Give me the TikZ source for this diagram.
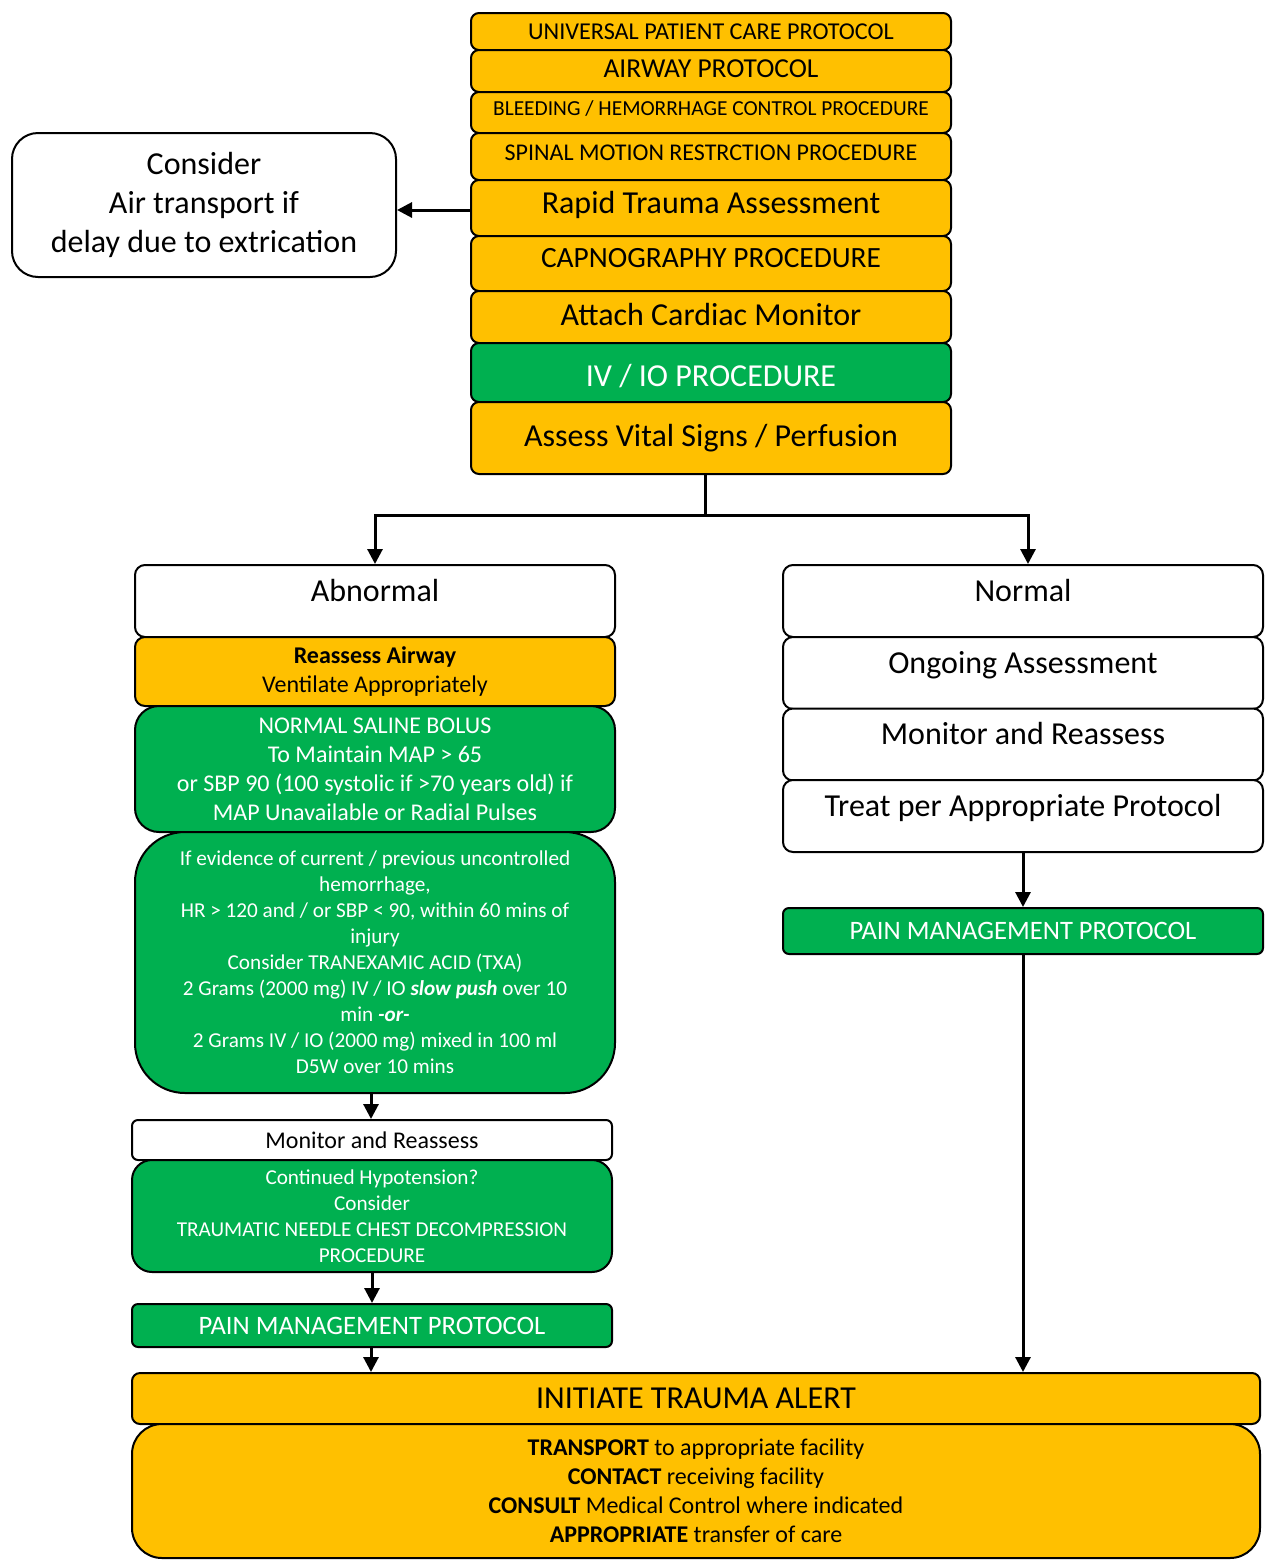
\documentclass[tikz,border=0pt]{standalone}
\usepackage{fontspec}
\setmainfont{Carlito}
\usetikzlibrary{arrows.meta}
\definecolor{amber}{HTML}{FFC000}
\definecolor{leaf}{HTML}{00B050}

% font size shortcut
\newcommand\fs[2]{\fontsize{#1}{#2}\selectfont}

\tikzset{
  base/.style={draw=black, line width=1pt, align=center, inner sep=0pt},
  yel/.style={base, fill=amber, text=black},
  grn/.style={base, fill=leaf, text=white},
  wht/.style={base, fill=white, text=black},
  toptext/.style={text height=18pt, text depth=18pt},
  baseline at/.style 2 args={text height=#1, text depth=#2},
  arr/.style={line width=1.5pt, -{Triangle[length=7.5pt,width=7.5pt]}},
}

% box from corner (#3,#4) to corner (#5,#6), style #1, name #2, text #7
\newcommand\pbox[7]{%
  \node[#1, minimum width={(#5-#3)*0.5pt}, minimum height={(#6-#4)*0.5pt}]
    (#2) at ({(#3+#5)/2},{(#4+#6)/2}) {#7};}

\begin{document}
\begin{tikzpicture}[x=0.5pt, y=-0.5pt]
\useasboundingbox (0,0) rectangle (1266,1564);

% ---- initial assessment stack
\pbox{yel, rounded corners=4pt, font=\fs{12.1}{14}, baseline at={13pt}{5.5pt}}{upc}{471}{13}{951}{50}{UNIVERSAL PATIENT CARE PROTOCOL}
\pbox{yel, rounded corners=4pt, font=\fs{13.7}{16}, baseline at={13.5pt}{7.5pt}}{awy}{471}{50}{951}{92}{AIRWAY PROTOCOL}
\pbox{yel, rounded corners=4pt, font=\fs{10.7}{13}, baseline at={11.5pt}{9pt}}{bld}{471}{92}{951}{133}{BLEEDING / HEMORRHAGE CONTROL PROCEDURE}
\pbox{yel, rounded corners=4pt, font=\fs{12}{14}, baseline at={13.5pt}{10pt}}{smr}{471}{133}{951}{180}{SPINAL MOTION RESTRCTION PROCEDURE}
\pbox{yel, rounded corners=4pt, font=\fs{16}{19.5}, baseline at={16.5pt}{11.5pt}}{rta}{471}{180}{951}{236}{Rapid Trauma Assessment}
\pbox{yel, rounded corners=4pt, font=\fs{14.7}{18}, baseline at={15.5pt}{12pt}}{cap}{471}{236}{951}{291}{CAPNOGRAPHY PROCEDURE}
\pbox{yel, rounded corners=4pt, font=\fs{16}{19.5}, baseline at={17pt}{9pt}}{acm}{471}{291}{951}{343}{Attach Cardiac Monitor}
\pbox{grn, rounded corners=4pt, font=\fs{16}{19.5}, baseline at={21.5pt}{8pt}}{ivo}{471}{343}{951}{402}{IV / IO PROCEDURE}
\pbox{yel, rounded corners=4pt, font=\fs{16}{19.5}, baseline at={22pt}{14pt}}{avs}{471}{402}{951}{474}{Assess Vital Signs / Perfusion}

% ---- air transport note
\pbox{wht, rounded corners=13pt, font=\fs{16}{19.5}}{con}{12}{133}{396}{277}{Consider\\Air transport if\\delay due to extrication}
\coordinate (ay) at (0,210);
\draw[arr] (rta.west |- ay) -- (con.east |- ay);

% ---- abnormal branch
\pbox{wht, toptext, rounded corners=5pt, font=\fs{16}{19.5}}{abn}{135}{565}{615}{637}{Abnormal}
\pbox{yel, rounded corners=5pt, font=\fs{12}{14.5}}{raw}{135}{637}{615}{706}{\textbf{Reassess Airway}\\Ventilate Appropriately}
\pbox{grn, rounded corners=12pt, font=\fs{12}{14.5}}{nsb}{135}{706}{615}{832}{NORMAL SALINE BOLUS\\To Maintain MAP > 65\\or SBP 90 (100 systolic if >70 years old) if\\MAP Unavailable or Radial Pulses}
\pbox{grn, rounded corners=25pt, font=\fs{10.6}{13}}{txa}{135}{832}{615}{1093}{If evidence of current / previous uncontrolled\\hemorrhage,\\HR > 120 and / or SBP < 90, within 60 mins of\\injury\\Consider TRANEXAMIC ACID (TXA)\\2 Grams (2000 mg) IV / IO \textbf{\textit{slow push}} over 10\\min \textbf{\textit{-or-}}\\2 Grams IV / IO (2000 mg) mixed in 100 ml\\D5W over 10 mins}
\pbox{wht, rounded corners=3pt, font=\fs{12}{14.5}}{mrl}{132}{1120}{612}{1160}{Monitor and Reassess}
\pbox{grn, rounded corners=10pt, font=\fs{10.6}{12.9}}{chy}{132}{1160}{612}{1272}{Continued Hypotension?\\Consider\\TRAUMATIC NEEDLE CHEST DECOMPRESSION\\PROCEDURE}
\pbox{grn, rounded corners=3pt, font=\fs{13.3}{16}}{pml}{132}{1304}{612}{1347}{PAIN MANAGEMENT PROTOCOL}

% ---- normal branch
\pbox{wht, toptext, rounded corners=5pt, font=\fs{16}{19.5}}{nrm}{783}{565}{1263}{637}{Normal}
\pbox{wht, toptext, rounded corners=5pt, font=\fs{16}{19.5}}{ong}{783}{637}{1263}{709}{Ongoing Assessment}
\pbox{wht, toptext, rounded corners=5pt, font=\fs{16}{19.5}}{mrr}{783}{709}{1263}{780}{Monitor and Reassess}
\pbox{wht, toptext, rounded corners=5pt, font=\fs{16}{19.5}}{tpp}{783}{780}{1263}{852}{Treat per Appropriate Protocol}
\pbox{grn, rounded corners=3pt, font=\fs{13.3}{16}}{pmr}{783}{908}{1263}{954}{PAIN MANAGEMENT PROTOCOL}

% ---- trauma alert
\pbox{yel, rounded corners=4pt, font=\fs{16}{19.5}}{ita}{132}{1373}{1260}{1424}{INITIATE TRAUMA ALERT}
\pbox{yel, rounded corners=15pt, font=\fs{12}{14.5}}{trn}{132}{1424}{1260}{1558}{\textbf{TRANSPORT} to appropriate facility\\\textbf{CONTACT} receiving facility\\\textbf{CONSULT} Medical Control where indicated\\\textbf{APPROPRIATE} transfer of care}

% ---- connectors
\coordinate (fork) at (705,515);
\coordinate (lx) at (371,0);
\coordinate (lx2) at (372,0);
\coordinate (rx) at (1028,0);
\draw[line width=1.5pt] (fork |- avs.south) -- (fork);
\draw[arr] (fork) -| (abn.north);
\draw[arr] (fork) -| (rx |- nrm.north);
\draw[arr] (txa.south -| lx) -- (mrl.north -| lx);
\draw[arr] (chy.south -| lx2) -- (pml.north -| lx2);
\draw[arr] (pml.south -| lx) -- (ita.north -| lx);
\draw[arr] (tpp.south) -- (pmr.north);
\draw[arr] (pmr.south) -- (ita.north -| pmr.south);
\end{tikzpicture}
\end{document}
